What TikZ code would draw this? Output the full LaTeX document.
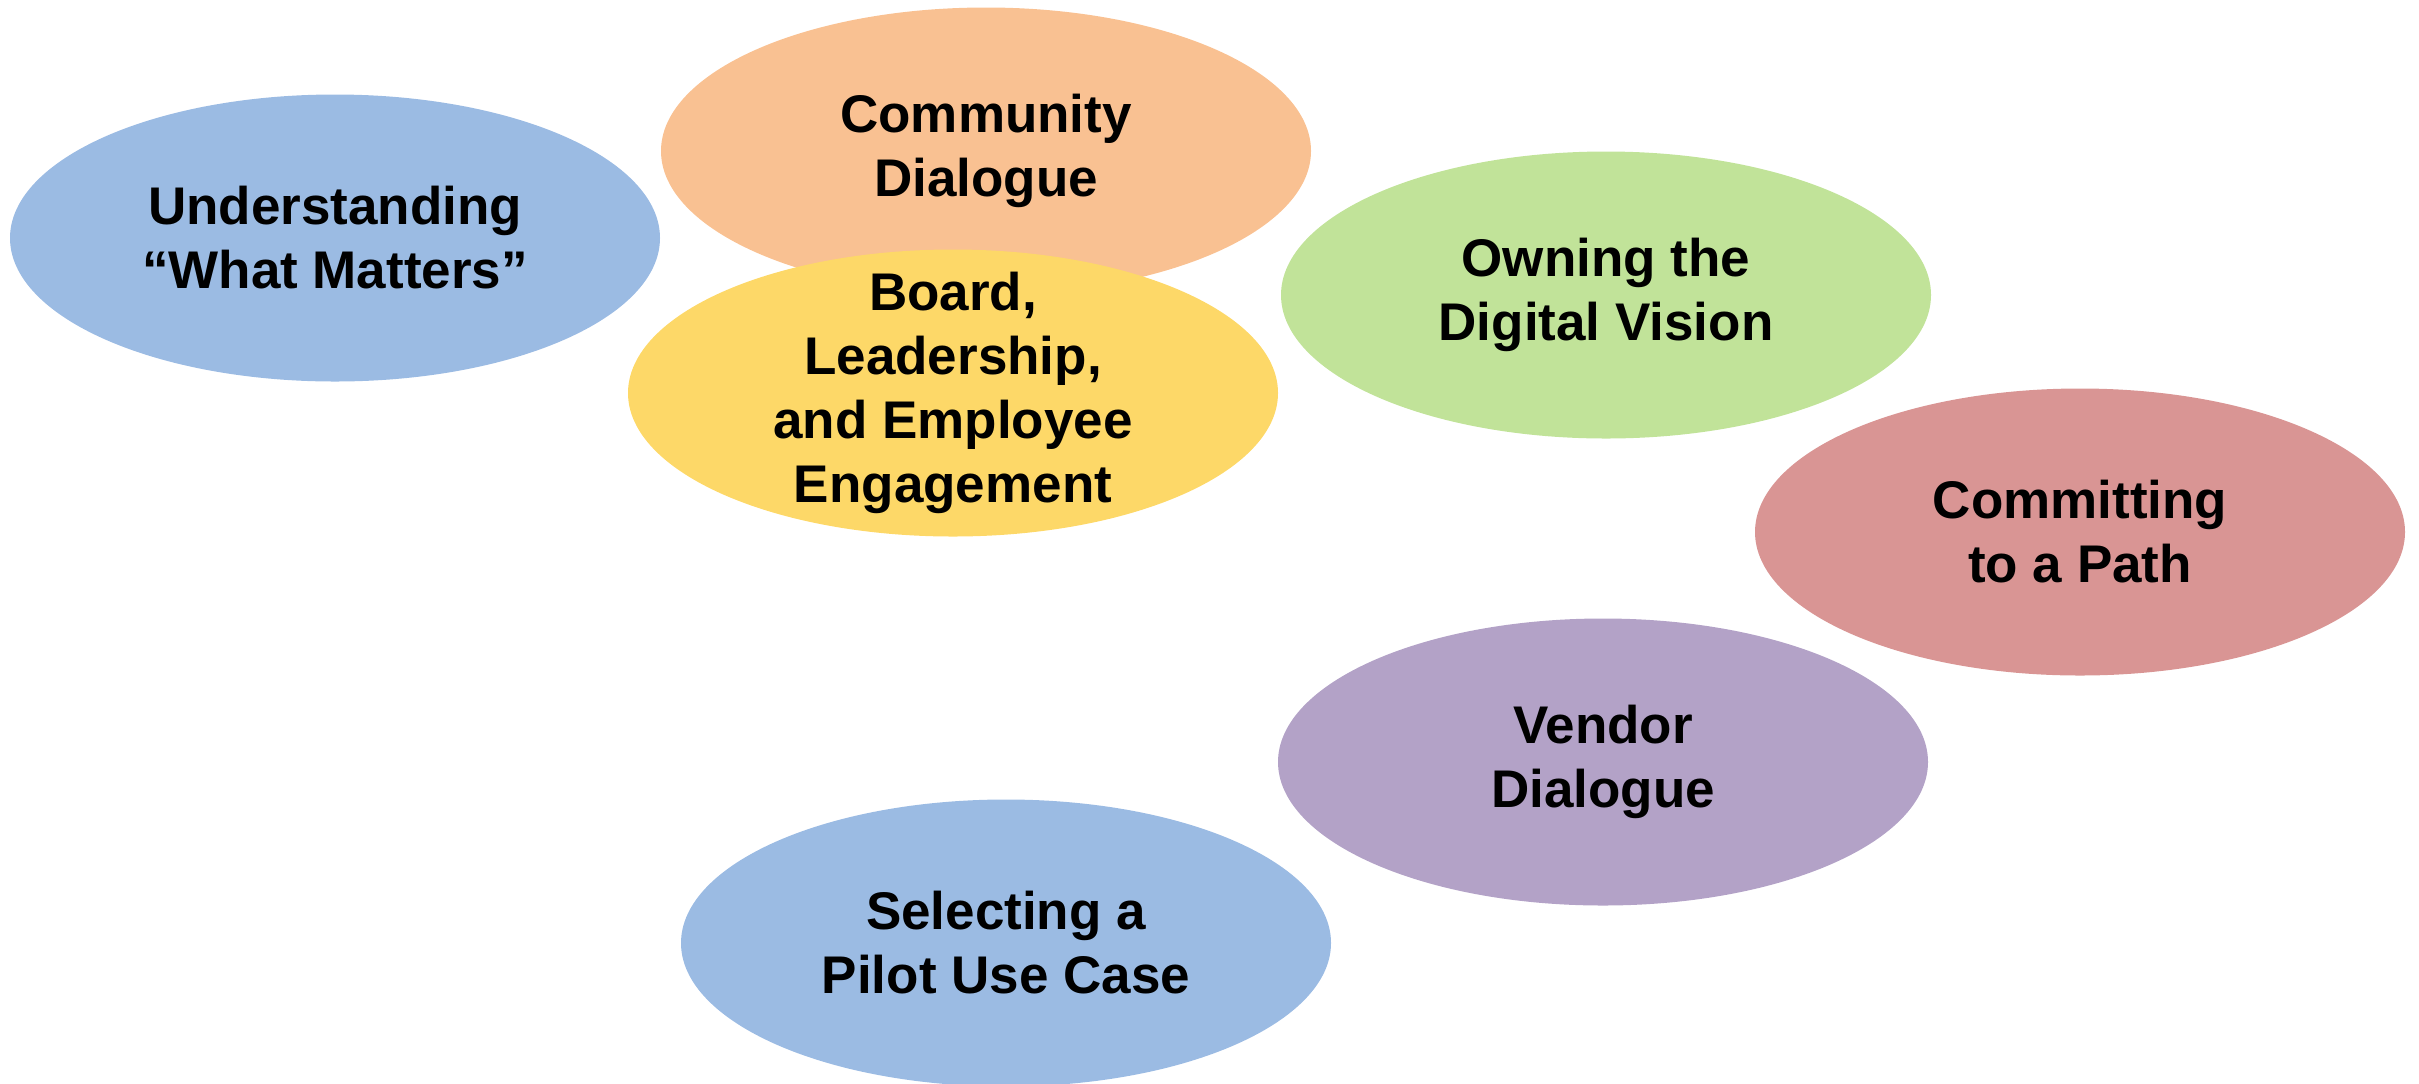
\documentclass[tikz,border=0pt]{standalone}
\usepackage{fontspec}
\setmainfont{Liberation Sans}
\usetikzlibrary{shapes.geometric}
\definecolor{cblue}{HTML}{9BBBE3}
\definecolor{corange}{HTML}{F9C192}
\definecolor{cyellow}{HTML}{FDD868}
\definecolor{cgreen}{HTML}{C1E399}
\definecolor{cred}{HTML}{D99594}
\definecolor{cpurple}{HTML}{B3A2C7}
\tikzset{
  ell/.style={ellipse, draw=none, inner sep=0pt, minimum width=325pt, minimum height=143.5pt},
  txt/.style={align=center, inner sep=0pt, text=black, font=\bfseries\fontsize{26.5pt}{32pt}\selectfont}
}
\begin{document}
\begin{tikzpicture}[x=0.5pt,y=-0.5pt]
\useasboundingbox (0,0) rectangle (2419,1083);
\node[ell, fill=cblue] (e1) at (335,238) {};
\node[txt] (t1) at (e1) {Understanding\\“What Matters”};
\node[ell, fill=corange] (e2) at (986,151) {};
\node[txt] (t2) at (e2) {Community\\Dialogue};
\node[ell, fill=cyellow] (e3) at (953,393) {};
\node[txt] (t3) at (e3) {Board,\\Leadership,\\and Employee\\Engagement};
\node[ell, fill=cgreen] (e4) at (1606,295) {};
\node[txt] (t4) at (e4) {Owning the\\Digital Vision};
\node[ell, fill=cred] (e5) at (2080,532) {};
\node[txt] (t5) at (e5) {Committing\\to a Path};
\node[ell, fill=cpurple] (e6) at (1603,762) {};
\node[txt] (t6) at (e6) {Vendor\\Dialogue};
\node[ell, fill=cblue] (e7) at (1006,943) {};
\node[txt] (t7) at (e7) {Selecting a\\Pilot Use Case};
\end{tikzpicture}
\end{document}
